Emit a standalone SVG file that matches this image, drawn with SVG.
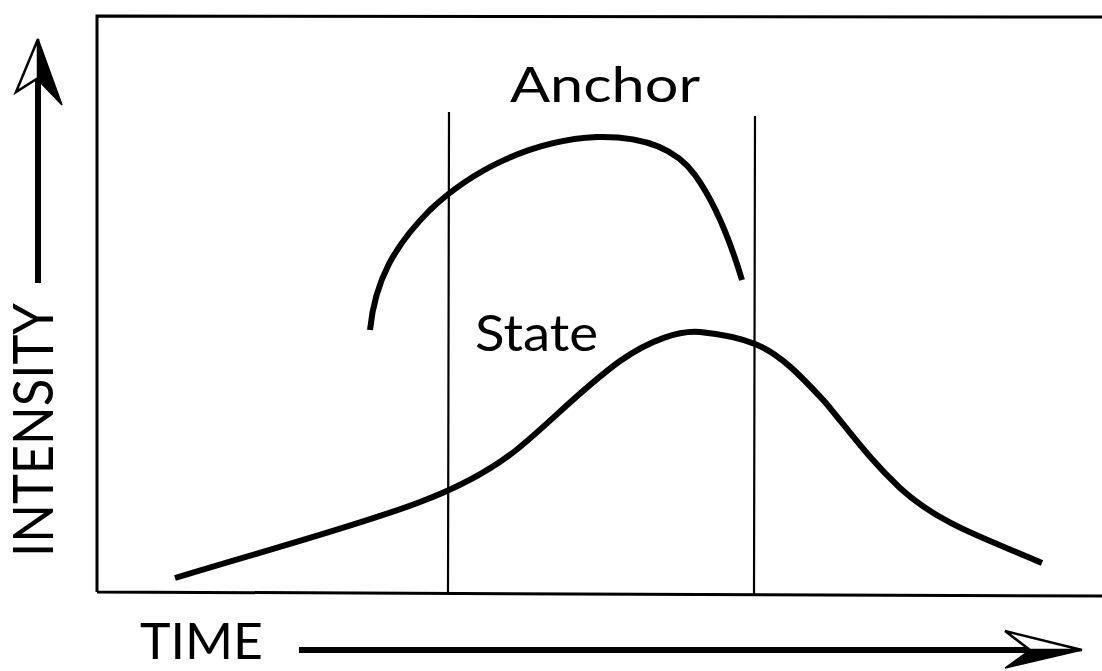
<svg xmlns="http://www.w3.org/2000/svg" width="1102" height="671" viewBox="0 0 1102 671">
<style>
.lbl{font-family:Lato,"Liberation Sans",sans-serif;fill:#000}
.frame{fill:none;stroke:#000;stroke-width:3}
.vline{fill:none;stroke:#000;stroke-width:2.2}
.curve{fill:none;stroke:#000;stroke-width:6;stroke-linecap:butt}
.shaft{fill:none;stroke:#000;stroke-width:6}
</style>
<rect width="1102" height="671" fill="#fff"/>
<g id="frame">
<path class="frame" d="M97,592 L97,16 L1102,17 M97,592 L1102,596"/>
<path class="vline" d="M449,112 L448,592 M755,116 L754,595"/>
</g>
<g id="anchor">
<path class="curve" d="M370,330 C375,280 395,245 430,210 C470,172 530,140 597,137 C640,136 675,147 695,175 C713,200 730,240 742,280"/>
<text class="lbl" x="510" y="102" font-size="48" textLength="190" lengthAdjust="spacingAndGlyphs">Anchor</text>
</g>
<g id="state">
<path class="curve" d="M175,578 C260,552 360,525 420,502 C460,487 488,472 515,451 C550,423 580,390 620,361 C650,340 680,330 700,332 C720,334 740,338 755,344 C780,354 800,375 825,402 C850,432 870,460 900,488 C940,525 990,540 1042,563"/>
<text class="lbl" x="475" y="351" font-size="50" textLength="123" lengthAdjust="spacingAndGlyphs">State</text>
</g>
<g id="intensity-axis">
<path class="shaft" d="M38,283 L38,75"/>
<polygon points="38,39 16,92 38,78" fill="#fff" stroke="#000" stroke-width="2.5" stroke-linejoin="miter"/>
<polygon points="38,39 62,105 38,80" fill="#000" stroke="#000" stroke-width="1.5"/>
<text class="lbl" transform="translate(53,557) rotate(-90)" font-size="56" textLength="254" lengthAdjust="spacingAndGlyphs">INTENSITY</text>
</g>
<g id="time-axis">
<path class="shaft" d="M299,650 L1040,650"/>
<polygon points="1082,650 1005,631 1030,650" fill="#fff" stroke="#000" stroke-width="2.5"/>
<polygon points="1082,650 1005,668 1030,650" fill="#000" stroke="#000" stroke-width="1.5"/>
<text class="lbl" x="140" y="659" font-size="50" textLength="123" lengthAdjust="spacingAndGlyphs">TIME</text>
</g>
</svg>
